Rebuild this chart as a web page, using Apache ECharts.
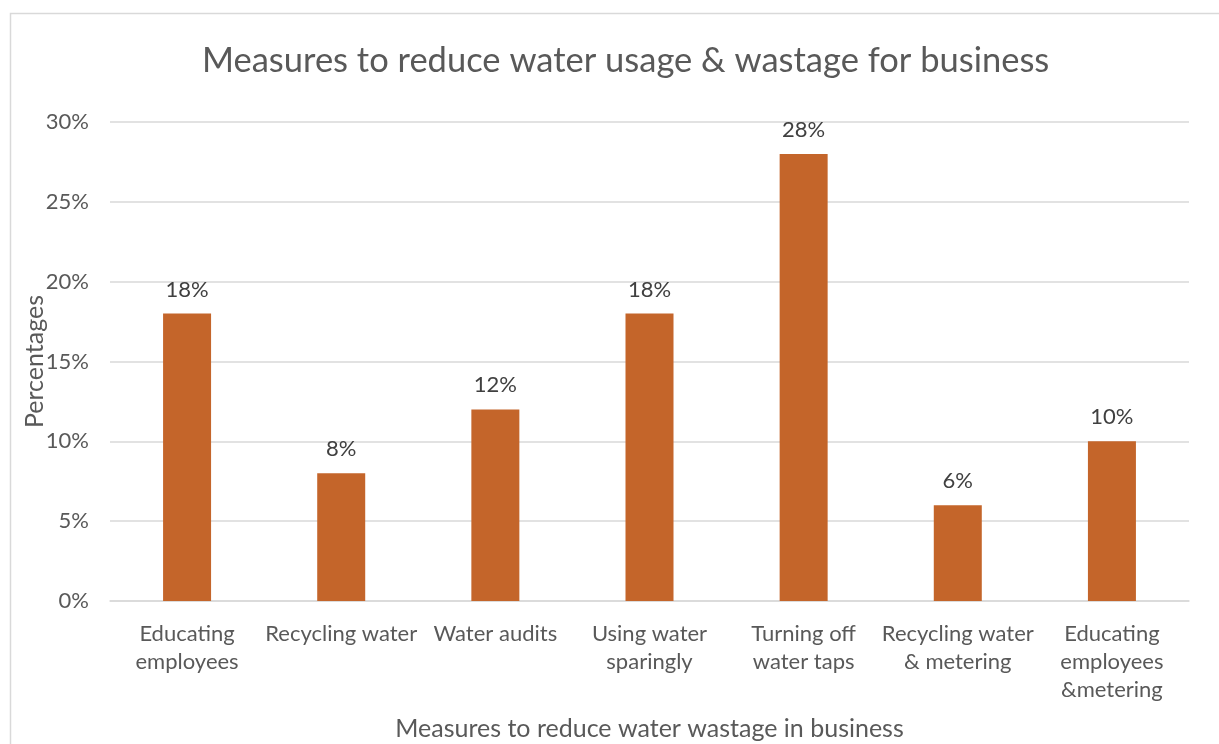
<!DOCTYPE html>
<html>
<head>
<meta charset="utf-8">
<script src="https://cdn.jsdelivr.net/npm/echarts@6/dist/echarts.min.js"></script>
<style>
html,body{margin:0;padding:0;background:#fff;overflow:hidden;}
#chart{width:1219px;height:744px;}
</style>
</head>
<body>
<div id="chart"></div>
<script>
const categories = ["Educating\nemployees", "Recycling water", "Water audits", "Using water\nsparingly", "Turning off\nwater taps", "Recycling water\n& metering", "Educating\nemployees\n&metering"];
const values = [18, 8, 12, 18, 28, 6, 10];
const yTicks = [0, 5, 10, 15, 20, 25, 30];
const titleText = "Measures to reduce water usage & wastage for business";
const xName = "Measures to reduce water wastage in business";
const yName = "Percentages";

const font = "Lato, 'Open Sans', sans-serif";
const chart = echarts.init(document.getElementById('chart'), null, {renderer: 'canvas'});
chart.setOption({
  animation: false,
  backgroundColor: '#fff',
  graphic: [{
    type: 'rect', shape: {x: 10.5, y: 13.5, width: 1230, height: 760},
    style: {fill: 'none', stroke: '#d9d9d9', lineWidth: 1.5}, silent: true
  }],
  title: {
    text: titleText, left: 197, top: 38,
    textStyle: {fontFamily: font, fontSize: 34.5, fontWeight: 'normal', color: '#595959'}
  },
  grid: {left: 110, right: 30, top: 122, bottom: 143, containLabel: false, outerBoundsMode: 'none'},
  xAxis: {
    type: 'category', data: categories,
    name: xName, nameLocation: 'middle', nameGap: 115, nameMoveOverlap: false,
    nameTextStyle: {fontFamily: font, fontSize: 25, color: '#595959'},
    axisLine: {lineStyle: {color: '#d9d9d9', width: 1.5}},
    axisTick: {show: false},
    axisLabel: {fontFamily: font, fontSize: 22, color: '#595959', lineHeight: 28, margin: 19, interval: 0}
  },
  yAxis: {
    type: 'value', min: yTicks[0], max: yTicks[yTicks.length - 1], interval: 5,
    name: yName, nameLocation: 'middle', nameGap: 63, nameRotate: 90, nameMoveOverlap: false,
    nameTextStyle: {fontFamily: font, fontSize: 25, color: '#595959'},
    axisLine: {show: false}, axisTick: {show: false},
    axisLabel: {fontFamily: font, fontSize: 22, color: '#595959', margin: 21, formatter: v => v + '%'},
    splitLine: {lineStyle: {color: '#d9d9d9', width: 1.5}}
  },
  series: [{
    type: 'bar', data: values, barWidth: 48,
    itemStyle: {color: '#C4652A'},
    label: {show: true, position: 'top', distance: 13, fontFamily: font, fontSize: 22, color: '#404040', formatter: p => p.value + '%'}
  }]
});
</script>
</body>
</html>
